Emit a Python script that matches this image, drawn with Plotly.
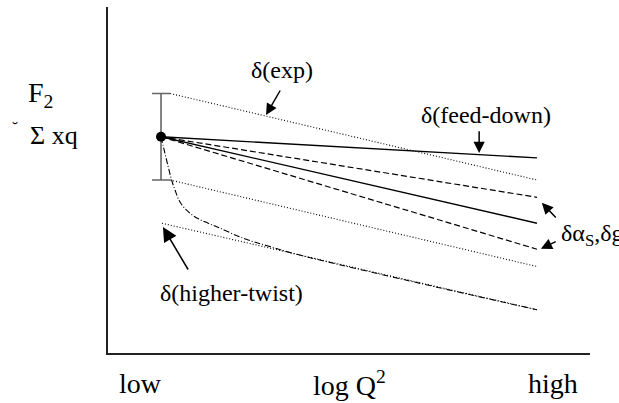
import plotly.graph_objects as go

# Schematic: evolution of F2 with log Q^2 and its uncertainty sources.
# Axis units are arbitrary (0..100 on both axes).

# measured point at low Q^2 with its experimental error
point_q = [11.0]
point_f2 = [62.5]
point_err = [12.5]

# straight-line evolutions from the low-Q^2 point to high Q^2
q_ends = [11.0, 89.0]
f2_central = [62.5, 37.5]
f2_feed_down = [62.5, 56.4]
f2_alpha_up = [62.5, 45.0]
f2_alpha_dn = [62.5, 30.0]

# experimental error band (dotted)
exp_q = [12.9, 89.0]
f2_exp_up = [75.0, 50.0]
f2_exp_dn = [50.0, 25.0]

# higher-twist: asymptotic line and the curve approaching it
ht_line_q = [11.2, 89.0]
f2_ht_line = [37.5, 12.5]
ht_curve_q = [11.0, 11.8, 12.5, 13.2, 13.9, 14.9, 16.3, 18.0, 20.1, 22.9, 28.0, 33.0, 39.8, 89.0]
f2_ht_curve = [62.5, 57.8, 53.8, 50.0, 47.1, 43.7, 41.3, 39.4, 37.9, 36.3, 33.2, 31.0, 28.3, 12.5]

# axis captions (paper positions)
x_tick_labels = ["low", "log Q<sup>2</sup>", "high"]
x_tick_pos = [0.068, 0.502, 0.923]

SERIF = "Liberation Serif"
DOT = "1px,2px"
DASH = "6px,3px"

fig = go.Figure()

def line(xs, ys, dash="solid", width=1.3, shape="linear"):
    fig.add_trace(go.Scatter(x=xs, y=ys, mode="lines",
                             line=dict(color="black", width=width, dash=dash, shape=shape),
                             hoverinfo="skip"))

line(exp_q, f2_exp_up, DOT, 1.1)
line(exp_q, f2_exp_dn, DOT, 1.1)
line(ht_line_q, f2_ht_line, DOT, 1.1)
line(q_ends, f2_feed_down, "solid", 1.4)
line(q_ends, f2_central, "solid", 1.4)
line(q_ends, f2_alpha_up, DASH, 1.2)
line(q_ends, f2_alpha_dn, DASH, 1.2)
line(ht_curve_q, f2_ht_curve, "6px,2px,1px,2px", 1.1, "spline")

fig.add_trace(go.Scatter(
    x=point_q, y=point_f2, mode="markers",
    marker=dict(color="black", size=10),
    error_y=dict(type="data", array=point_err, color="#666", thickness=1.6, width=9),
    hoverinfo="skip"))

def label(x, y, text, size=24, xanchor="center", ref="x"):
    fig.add_annotation(x=x, y=y, xref=ref, yref=ref.replace("x", "y"), text=text,
                       showarrow=False, xanchor=xanchor, yanchor="middle",
                       font=dict(family=SERIF, size=size, color="black"))

def arrow(x_head, y_head, x_tail, y_tail, size=1.5):
    fig.add_annotation(x=x_head, y=y_head, ax=x_tail, ay=y_tail,
                       xref="x", yref="y", axref="x", ayref="y", text="",
                       showarrow=True, arrowhead=2, arrowsize=size, arrowwidth=1.5,
                       arrowcolor="black", standoff=0, startstandoff=0)

label(36.1, 81.8, "δ(exp)")
arrow(32.8, 68.8, 35.9, 76.3)

label(78.4, 68.8, "δ(feed-down)")
arrow(77.0, 57.8, 77.0, 64.5)

label(93.6, 34.1, "δα<sub>S</sub>,δg", xanchor="left")
arrow(90.0, 43.4, 93.2, 38.7)
arrow(89.8, 30.1, 93.2, 32.4)

label(25.7, 17.3, "δ(higher-twist)")
arrow(11.4, 36.4, 16.8, 23.7, size=1.9)

# y-axis caption
label(-0.170, 0.746, "F<sub>2</sub>", size=28, xanchor="left", ref="paper")
label(-0.166, 0.630, "Σ xq", size=26, xanchor="left", ref="paper")
label(-0.203, 0.648, "˘", size=18, xanchor="left", ref="paper")

for xp, txt in zip(x_tick_pos, x_tick_labels):
    label(xp, -0.087, txt, size=28, ref="paper")

axis_common = dict(range=[0, 100], showline=True, linecolor="#222", linewidth=1.6,
                   showgrid=False, zeroline=False, showticklabels=False, ticks="",
                   fixedrange=True)

fig.update_layout(
    width=619, height=403,
    margin=dict(l=108, r=29, t=7, b=50),
    paper_bgcolor="white", plot_bgcolor="white",
    showlegend=False,
    xaxis=axis_common,
    yaxis=axis_common,
)

fig.write_html("out.html")
